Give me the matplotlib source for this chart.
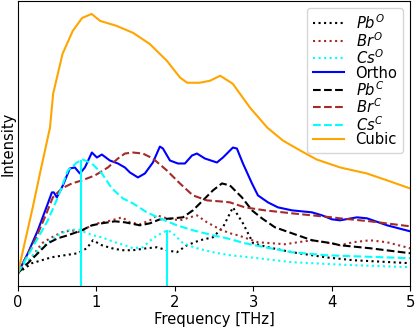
import matplotlib
matplotlib.use('Agg')
import matplotlib.pyplot as plt

# frequency [THz] / intensity (arb. units)
pbo_f = [0, 0.179, 0.306, 0.434, 0.6, 0.765, 0.88, 0.957, 1.071, 1.199, 1.327, 1.467, 1.645, 1.773,
         1.90, 2.028, 2.156, 2.321, 2.487, 2.615, 2.742, 2.87, 3.0, 3.189, 3.495, 3.916, 4.273, 5.0]
pbo_i = [0, 10, 13, 16, 18, 20, 25, 33, 28, 25, 23, 23, 25, 26,
         23, 21, 28, 33, 36, 46, 66, 50, 30, 26, 21, 16, 13, 10]

bro_f = [0, 0.179, 0.306, 0.434, 0.561, 0.689, 0.791, 0.893, 1.02, 1.199, 1.327, 1.429, 1.556, 1.684,
         1.773, 1.90, 2.066, 2.194, 2.283, 2.411, 2.577, 2.704, 2.806, 3.061, 3.24, 3.406, 3.571,
         3.75, 3.916, 4.107, 4.273, 4.49, 4.707, 5.0]
bro_i = [0, 16, 30, 36, 41, 43, 41, 46, 50, 53, 56, 51, 49, 53,
         58, 55, 53, 56, 58, 51, 44, 40, 38, 31, 30, 29, 31,
         33, 31, 28, 31, 33, 31, 25]

cso_f = [0, 0.217, 0.383, 0.51, 0.638, 0.765, 0.855, 0.957, 1.071, 1.237, 1.365, 1.467, 1.594,
         1.722, 1.85, 1.913, 1.977, 2.105, 2.283, 2.487, 2.704, 3.061, 3.495, 4.005, 4.273, 5.0]
cso_i = [0, 20, 31, 38, 43, 44, 41, 38, 36, 31, 28, 25, 26,
         35, 41, 43, 40, 30, 25, 21, 18, 15, 11, 9, 8, 6]

ortho_f = [0, 0.128, 0.255, 0.383, 0.434, 0.459, 0.497, 0.574, 0.663, 0.727, 0.791, 0.855, 0.944,
           1.008, 1.071, 1.173, 1.276, 1.365, 1.429, 1.531, 1.62, 1.722, 1.811, 1.85, 1.939, 2.041,
           2.13, 2.22, 2.283, 2.385, 2.538, 2.615, 2.704, 2.742, 2.793, 2.87, 2.985, 3.061, 3.189,
           3.316, 3.495, 3.75, 3.878, 4.005, 4.107, 4.324, 4.452, 4.707, 5.0]
ortho_i = [0, 20, 43, 70, 81, 81, 76, 88, 105, 106, 100, 106, 121,
           116, 119, 113, 110, 106, 101, 96, 100, 111, 127, 125, 113, 110,
           110, 118, 120, 115, 111, 116, 123, 126, 125, 110, 90, 78, 71,
           66, 63, 61, 58, 54, 53, 56, 55, 48, 42]

pbc_f = [0, 0.128, 0.255, 0.383, 0.51, 0.638, 0.816, 0.944, 1.071, 1.237, 1.365, 1.429, 1.556,
         1.684, 1.811, 1.977, 2.105, 2.232, 2.36, 2.487, 2.602, 2.704, 2.857, 2.985, 3.112, 3.278,
         3.495, 3.75, 4.005, 4.107, 4.49, 5.0]
pbc_i = [0, 10, 20, 30, 35, 38, 43, 48, 50, 52, 51, 50, 48,
         50, 54, 55, 56, 63, 73, 83, 90, 88, 76, 63, 55, 46,
         40, 33, 30, 28, 25, 20]

brc_f = [0, 0.217, 0.344, 0.446, 0.561, 0.689, 0.816, 0.982, 1.148, 1.276, 1.365, 1.467, 1.594,
         1.722, 1.90, 2.066, 2.232, 2.411, 2.577, 2.704, 2.895, 3.15, 3.495, 3.75, 4.005, 4.107,
         4.49, 5.0]
brc_i = [0, 33, 56, 76, 85, 90, 93, 98, 106, 115, 120, 121, 120,
         115, 103, 90, 78, 73, 72, 71, 66, 63, 60, 58, 56, 55,
         52, 47]

csc_f = [0, 0.217, 0.383, 0.51, 0.638, 0.753, 0.829, 0.944, 1.071, 1.199, 1.339, 1.467, 1.645,
         1.811, 2.028, 2.232, 2.487, 2.666, 2.895, 3.15, 3.495, 3.916, 4.273, 5.0]
csc_i = [0, 30, 53, 76, 103, 111, 114, 110, 100, 85, 75, 70, 61,
         55, 48, 43, 38, 35, 30, 26, 21, 18, 17, 15]

cubic_f = [0, 0.19, 0.29, 0.41, 0.45, 0.57, 0.70, 0.82, 0.94, 1.05, 1.26, 1.47, 1.68, 1.90,
           2.07, 2.16, 2.32, 2.45, 2.58, 2.74, 2.96, 3.18, 3.38, 3.60, 3.81, 4.11, 4.45, 4.71, 5.0]
cubic_i = [0, 66, 103, 146, 180, 220, 243, 256, 260, 253, 248, 241, 230, 213,
           196, 191, 191, 193, 198, 190, 166, 146, 133, 123, 114, 106, 100, 93, 85]

# the two cyan spikes
spike_f = [0.8, 1.9]
spike_top = [114, 43]

fs = 10.6

fig = plt.figure(figsize=(4.15, 3.27), dpi=100)
ax = fig.add_axes([0.043, 0.125, 0.945, 0.872])

ax.plot(pbo_f, pbo_i, ':', color='black', lw=1.5, label='$Pb^O$')
ax.plot(bro_f, bro_i, ':', color='brown', lw=1.5, label='$Br^O$')
ax.plot(cso_f, cso_i, ':', color='cyan', lw=1.5, label='$Cs^O$')
ax.plot(ortho_f, ortho_i, '-', color='blue', lw=1.5, label='Ortho')
ax.plot(pbc_f, pbc_i, '--', color='black', lw=1.5, label='$Pb^C$')
ax.plot(brc_f, brc_i, '--', color='brown', lw=1.5, label='$Br^C$')
ax.plot(csc_f, csc_i, '--', color='cyan', lw=1.5, label='$Cs^C$')
ax.plot(cubic_f, cubic_i, '-', color='orange', lw=1.5, label='Cubic')
ax.vlines(spike_f, -20, spike_top, color='cyan', lw=1.5)

ax.set_xlim(0, 5)
ax.set_ylim(-13, 273)
ax.set_yticks([])
ax.tick_params(labelsize=fs, pad=3)
ax.set_xlabel('Frequency [THz]', fontsize=fs, labelpad=1)
ax.set_ylabel('Intensity', fontsize=fs, labelpad=2)
ax.legend(loc='upper right', fontsize=fs, labelspacing=-0.08, handlelength=2.1,
          handleheight=1.05, borderaxespad=0.45, borderpad=0.4)

plt.savefig('out.png', dpi=100)
